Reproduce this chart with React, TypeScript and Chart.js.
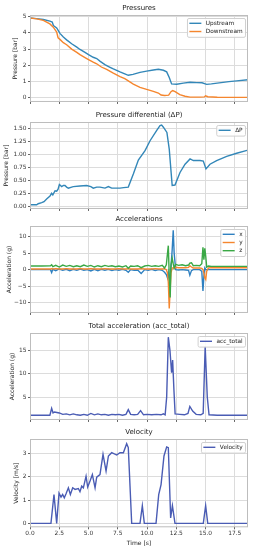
import React, { useEffect, useRef } from 'react';
import { Chart, registerables } from 'chart.js';

Chart.register(...registerables);

const FONT = "'DejaVu Sans', 'Liberation Sans', sans-serif";

// ---------- data (time [s], value) ----------
const xTickStep = 2.5;
const timeMax = 18.63;

const upstream: number[][] = [
  [0, 4.92], [0.57, 4.88], [1.14, 4.82], [1.7, 4.72], [1.9, 4.67], [2.0, 4.45], [2.14, 4.38],
  [2.28, 4.3], [2.56, 3.97], [2.85, 3.75], [3.13, 3.57], [3.56, 3.33], [4.0, 3.12], [4.27, 2.98],
  [4.7, 2.8], [5.0, 2.66], [5.4, 2.5], [5.7, 2.42], [6.0, 2.25], [6.4, 2.05], [6.8, 1.9],
  [7.12, 1.78], [7.69, 1.6], [8.1, 1.48], [8.4, 1.39], [8.8, 1.45], [9.4, 1.57], [9.97, 1.65],
  [10.54, 1.72], [10.97, 1.76], [11.4, 1.7], [11.68, 1.6], [11.9, 1.25], [12.1, 0.86],
  [12.54, 0.84], [13.1, 0.91], [13.68, 0.96], [14.25, 0.94], [14.7, 0.93], [15.1, 0.83],
  [15.5, 0.86], [16.0, 0.91], [17.0, 1.0], [17.66, 1.05], [18.63, 1.12],
];

const downstream: number[][] = [
  [0, 4.92], [0.57, 4.86], [1.14, 4.77], [1.7, 4.55], [1.99, 4.35], [2.28, 4.05], [2.4, 3.7],
  [2.56, 3.6], [2.85, 3.4], [3.13, 3.27], [3.56, 3.0], [4.0, 2.8], [4.27, 2.66], [4.7, 2.48],
  [5.0, 2.36], [5.4, 2.2], [5.7, 2.1], [6.1, 1.9], [6.55, 1.75], [7.12, 1.52], [7.69, 1.31],
  [8.1, 1.18], [8.4, 1.05], [8.83, 0.85], [9.4, 0.65], [9.97, 0.52], [10.54, 0.4], [10.97, 0.3],
  [11.2, 0.18], [11.5, 0.15], [11.85, 0.17], [12.05, 0.38], [12.19, 0.45], [12.4, 0.38],
  [12.8, 0.2], [13.25, 0.1], [13.68, 0.05], [14.5, 0.05], [14.9, 0.06], [15.0, 0.13],
  [15.2, 0.07], [16, 0.04], [18.63, 0.03],
];

const deltaP: number[][] = [
  [0, 0.03], [0.28, 0.03], [0.57, 0.03], [0.7, 0.05], [1.0, 0.07], [1.2, 0.09], [1.42, 0.14],
  [1.71, 0.2], [1.85, 0.25], [1.95, 0.22], [2.14, 0.3], [2.28, 0.29], [2.4, 0.33], [2.51, 0.42],
  [2.71, 0.38], [2.85, 0.4], [2.99, 0.4], [3.13, 0.37], [3.28, 0.35], [3.56, 0.37], [3.7, 0.38],
  [4.27, 0.39], [4.84, 0.4], [5.2, 0.38], [5.41, 0.35], [5.7, 0.37], [5.98, 0.37], [6.2, 0.36],
  [6.41, 0.35], [6.7, 0.38], [6.98, 0.35], [7.3, 0.35], [7.69, 0.35], [8.0, 0.36], [8.4, 0.37],
  [8.83, 0.62], [9.26, 0.89], [9.83, 1.07], [10.26, 1.26], [10.83, 1.46], [11.11, 1.55],
  [11.25, 1.56], [11.4, 1.52], [11.7, 1.42], [11.9, 1.1], [12.15, 0.4], [12.39, 0.41],
  [12.82, 0.65], [13.25, 0.81], [13.68, 0.91], [13.96, 0.88], [14.53, 0.88], [14.81, 0.87],
  [15.04, 0.72], [15.38, 0.81], [15.95, 0.88], [16.81, 0.96], [17.66, 1.02], [18.63, 1.08],
];

const accTime: number[] = [
  0, 1.0, 1.75, 1.85, 1.95, 2.2, 2.5, 2.8, 3.1, 3.4, 3.7, 4.0, 4.3, 4.6, 4.9, 5.2, 5.5, 5.8,
  6.1, 6.4, 6.7, 7.0, 7.3, 7.6, 7.9, 8.2, 8.4, 8.6, 8.9, 9.2, 9.5, 9.8, 10.1, 10.4, 10.7, 11.0,
  11.3, 11.5, 11.65, 11.75, 11.82, 11.9, 11.98, 12.05, 12.15, 12.24, 12.32, 12.45, 12.7, 13.0,
  13.3, 13.55, 13.66, 13.8, 13.95, 14.2, 14.5, 14.68, 14.78, 14.86, 14.94, 15.02, 15.1, 15.25,
  15.5, 16, 17, 18.63,
];
const accX: number[] = [
  0, 0, 0, -0.9, 0.1, -0.3, 0.2, -0.2, 0.1, -0.3, 0.1, -0.2, 0.2, -0.2, 0.0, -0.4, 0.1, -0.3,
  0.1, -0.2, 0.1, -0.3, 0.0, -0.2, 0.1, -0.2, -0.8, 0.0, -0.2, -0.1, -1.2, 0.0, -0.2, 0.1, -0.3, 0.0,
  -0.2, -0.8, -1.5, -2.5, -1.0, -3.0, -1.5, 1.0, 6.0, 12.0, 5.0, 0.0, -0.1, 0.0,
  -0.1, -0.2, -1.7, -0.3, 0.0, 0.0, 0.0, -0.5, -6.5, -2.0, 0.5, 0.0, 0.0, 0.0,
  0.0, 0.0, 0.0, 0.0,
];
const accY: number[] = [
  0.2, 0.2, 0.2, 0.3, 0.2, 0.3, 0.2, 0.2, 0.3, 0.2, 0.2, 0.2, 0.3, 0.2, 0.2, 0.3, 0.2, 0.2,
  0.2, 0.3, 0.2, 0.2, 0.2, 0.3, 0.2, 0.2, 0.3, 0.2, 0.2, 0.2, 0.3, 0.2, 0.2, 0.2, 0.3, 0.2,
  0.2, 0.3, 0.0, -1.0, -4.0, -11.8, -6.0, -1.0, 0.5, 0.6, 0.4, 0.7, 0.6, 0.6,
  0.6, 0.7, 1.2, 0.8, 0.5, 0.5, 0.5, 0.4, 0.0, -1.0, -2.5, -3.0, -0.5, 0.5,
  0.6, 0.6, 0.6, 0.6,
];
const accZ: number[] = [
  1.1, 1.1, 1.2, 1.5, 0.9, 1.3, 0.8, 1.4, 1.0, 1.3, 0.9, 1.2, 0.9, 1.4, 1.0, 1.3, 0.8, 1.2,
  0.9, 1.3, 1.0, 1.2, 0.9, 1.1, 0.8, 1.2, 0.4, 1.1, 1.0, 1.2, 0.6, 1.1, 1.3, 1.0, 1.2, 1.0,
  1.3, 0.5, 1.5, 5.0, 7.3, -2.0, -8.5, 1.5, 3.5, 1.8, 0.5, 1.6, 1.3, 1.5,
  1.2, 1.4, 2.0, 2.1, 1.2, 1.3, 1.2, 1.8, 6.8, 3.0, 6.5, 4.0, 0.8, 1.1,
  1.0, 1.0, 1.0, 1.0,
];

const accTotal: number[][] = [
  [0, 1.1], [1.7, 1.1], [1.85, 2.6], [1.97, 1.6], [2.1, 1.8], [2.5, 1.6], [2.8, 1.3], [3.1, 1.4],
  [3.4, 1.2], [3.7, 1.4], [4.0, 1.2], [4.3, 1.1], [4.6, 1.3], [4.9, 1.1], [5.2, 1.5], [5.5, 1.2],
  [5.8, 1.4], [6.1, 1.2], [6.4, 1.3], [6.7, 1.1], [7.0, 1.3], [7.3, 1.2], [7.6, 1.3], [7.9, 1.1],
  [8.2, 1.3], [8.4, 2.3], [8.6, 1.3], [8.9, 1.2], [9.2, 1.3], [9.45, 2.1], [9.7, 1.2], [10.0, 1.3],
  [10.4, 1.2], [10.8, 1.3], [11.2, 1.2], [11.4, 1.4], [11.55, 1.2], [11.68, 5.0], [11.82, 17.8],
  [11.96, 15.0], [12.1, 10.2], [12.19, 12.9], [12.3, 6.5], [12.4, 1.4], [12.8, 1.3], [13.2, 1.2],
  [13.5, 1.5], [13.66, 3.0], [13.9, 2.0], [14.2, 1.3], [14.6, 1.2], [14.8, 1.5], [14.97, 15.8],
  [15.15, 5.0], [15.3, 1.2], [16, 1.1], [17, 1.1], [18.63, 1.1],
];

const velocity: number[][] = [
  [0, 0], [1.79, 0], [2.05, 1.24], [2.28, 0], [2.48, 1.3], [2.65, 1.13], [2.79, 1.24], [2.93, 1.1],
  [3.08, 1.27], [3.28, 1.53], [3.45, 1.24], [3.65, 1.53], [3.85, 1.46], [4.13, 1.5], [4.27, 1.36],
  [4.42, 1.6], [4.56, 1.53], [4.79, 2.03], [4.93, 1.56], [5.13, 1.82], [5.33, 2.1], [5.56, 1.53],
  [5.7, 1.99], [5.98, 2.1], [6.24, 2.97], [6.5, 2.25], [6.7, 2.9], [6.98, 3.04], [7.41, 2.94],
  [7.69, 3.04], [7.98, 3.04], [8.26, 3.43], [8.4, 3.26], [8.69, 0], [9.4, 0], [9.6, 0.76],
  [9.77, 0], [10.77, 0], [11.0, 1.24], [11.2, 1.67], [11.45, 2.9], [11.68, 3.29], [11.82, 3.26],
  [12.02, 0.23], [12.17, 0.76], [12.39, 0], [14.81, 0], [15.01, 0.76], [15.19, 0], [18.63, 0],
];

// ---------- styling ----------
const C_TEAL = '#3387b8';
const C_ORANGE = '#f5862e';
const C_BLUE = '#2f80c0';
const C_GREEN = '#3aa845';
const C_INDIGO = '#4a5cb4';

type Series = { label: string; color: string; pts: number[][] };

type Panel = {
  title: string;
  yLabel: string;
  yMin: number;
  yMax: number;
  yStep: number;
  yFmt: (v: number) => string;
  yTitlePad: number;
  series: Series[];
  plotTop: number;
  last: boolean;
};

const zip = (t: number[], v: number[]) => t.map((x, i) => [x, v[i]]);
const minus = (v: number) => (v < 0 ? '\u2212' + Math.abs(v) : String(v));

const PLOT_H = 88.3;
const PLOT_LEFT = 30;
const PLOT_RIGHT = 248;
const TOP_SPACE = 15;
const CANVAS_W = 255;

const panels: Panel[] = [
  {
    title: 'Pressures', yLabel: 'Pressure [bar]', yMin: -0.25, yMax: 5.1, yStep: 1,
    yFmt: (v) => String(v), yTitlePad: 12.1, plotTop: 15, last: false,
    series: [
      { label: 'Upstream', color: C_TEAL, pts: upstream },
      { label: 'Downstream', color: C_ORANGE, pts: downstream },
    ],
  },
  {
    title: 'Pressure differential (\u0394P)', yLabel: 'Pressure [bar]', yMin: -0.05, yMax: 1.62,
    yStep: 0.25, yFmt: (v) => v.toFixed(2), yTitlePad: 2.4, plotTop: 122, last: false,
    series: [{ label: '\u0394P', color: C_TEAL, pts: deltaP }],
  },
  {
    title: 'Accelerations', yLabel: 'Acceleration (g)', yMin: -13.2, yMax: 13.3, yStep: 5,
    yFmt: minus, yTitlePad: 5.9, plotTop: 226, last: false,
    series: [
      { label: 'x', color: C_BLUE, pts: zip(accTime, accX) },
      { label: 'y', color: C_ORANGE, pts: zip(accTime, accY) },
      { label: 'z', color: C_GREEN, pts: zip(accTime, accZ) },
    ],
  },
  {
    title: 'Total acceleration (acc_total)', yLabel: 'Acceleration (g)', yMin: 0.1, yMax: 18.7,
    yStep: 5, yFmt: (v) => String(v), yTitlePad: 9.1, plotTop: 333, last: false,
    series: [{ label: 'acc_total', color: C_INDIGO, pts: accTotal }],
  },
  {
    title: 'Velocity', yLabel: 'Velocity [m/s]', yMin: -0.17, yMax: 3.63, yStep: 1,
    yFmt: (v) => String(v), yTitlePad: 12.4, plotTop: 439, last: true,
    series: [{ label: 'Velocity', color: C_INDIGO, pts: velocity }],
  },
];

const panelPlugin = {
  id: 'panelDeco',
  afterDraw(chart: any, _args: any, opts: any) {
    const { ctx, chartArea: a } = chart;
    ctx.save();
    // frame
    ctx.strokeStyle = '#bdbdbd';
    ctx.lineWidth = 1;
    ctx.strokeRect(a.left + 0.5, a.top + 0.5, a.right - a.left - 1, a.bottom - a.top - 1);
    // title
    ctx.fillStyle = '#222';
    ctx.font = `7px ${FONT}`;
    ctx.textAlign = 'center';
    ctx.textBaseline = 'middle';
    ctx.fillText(opts.title, (a.left + a.right) / 2, a.top - 7);
    // legend
    const entries: Series[] = opts.series;
    const fs = 5.8;
    const pad = 2.4, handle = 12, htp = 4.5, ls = 2.4;
    ctx.font = `${fs}px ${FONT}`;
    let maxW = 0;
    entries.forEach((e) => { maxW = Math.max(maxW, ctx.measureText(e.label).width); });
    const w = pad * 2 + handle + htp + maxW;
    const n = entries.length;
    const h = pad * 2 + n * fs + (n - 1) * ls;
    const x0 = a.right - 3 - w;
    const y0 = a.top + 3;
    ctx.beginPath();
    if ((ctx as any).roundRect) (ctx as any).roundRect(x0 + 0.5, y0 + 0.5, w, h, 1.5);
    else ctx.rect(x0 + 0.5, y0 + 0.5, w, h);
    ctx.fillStyle = 'rgba(255,255,255,0.85)';
    ctx.fill();
    ctx.strokeStyle = '#d0d0d0';
    ctx.lineWidth = 1;
    ctx.stroke();
    entries.forEach((e, i) => {
      const cy = y0 + pad + fs / 2 + i * (fs + ls);
      ctx.strokeStyle = e.color;
      ctx.lineWidth = 1.4;
      ctx.beginPath();
      ctx.moveTo(x0 + pad, cy);
      ctx.lineTo(x0 + pad + handle, cy);
      ctx.stroke();
      ctx.fillStyle = '#222';
      ctx.textAlign = 'left';
      ctx.textBaseline = 'middle';
      ctx.fillText(e.label, x0 + pad + handle + htp, cy);
    });
    ctx.restore();
  },
};

function PanelChart({ p }: { p: Panel }) {
  const ref = useRef<HTMLCanvasElement | null>(null);
  const canvasTop = p.plotTop - TOP_SPACE;
  const canvasH = p.last ? 550 - canvasTop : 107;
  const xAxisH = canvasH - TOP_SPACE - PLOT_H;

  useEffect(() => {
    if (!ref.current) return;
    const tickFont = { family: FONT, size: 5.9 };
    const gridCfg = { color: '#dcdcdc', tickColor: '#666', tickLength: 2, lineWidth: 1 };
    const n = p.series.length;
    const chart = new Chart(ref.current, {
      type: 'line',
      data: {
        datasets: p.series.map((s, i) => ({
          label: s.label,
          data: s.pts.map(([x, y]) => ({ x, y })),
          borderColor: s.color,
          backgroundColor: s.color,
          borderWidth: 1.4,
          pointRadius: 0,
          fill: false,
          tension: 0,
          order: n - i,
        })),
      },
      options: {
        responsive: false,
        animation: false,
        events: [],
        layout: { padding: { top: TOP_SPACE, left: 0, right: CANVAS_W - PLOT_RIGHT, bottom: 0 } },
        plugins: {
          legend: { display: false },
          title: { display: false },
          tooltip: { enabled: false },
          panelDeco: { title: p.title, series: p.series },
        } as any,
        scales: {
          x: {
            type: 'linear',
            min: 0,
            max: timeMax,
            ticks: {
              stepSize: xTickStep,
              includeBounds: false,
              display: p.last,
              autoSkip: false,
              maxRotation: 0,
              padding: 1,
              color: '#333',
              font: tickFont,
              callback: (v: any) => Number(v).toFixed(1),
            },
            grid: gridCfg,
            border: { display: false },
            title: {
              display: p.last,
              text: 'Time [s]',
              color: '#222',
              font: { family: FONT, size: 6 },
              padding: { top: 0, bottom: 3.1 },
            },
            afterFit: (s: any) => { s.height = xAxisH; },
          },
          y: {
            type: 'linear',
            min: p.yMin,
            max: p.yMax,
            ticks: {
              stepSize: p.yStep,
              includeBounds: false,
              padding: 1.5,
              color: '#333',
              font: tickFont,
              callback: (v: any) => p.yFmt(Number(v)),
            },
            grid: gridCfg,
            border: { display: false },
            title: {
              display: true,
              text: p.yLabel,
              color: '#222',
              font: { family: FONT, size: 6 },
              padding: { top: p.yTitlePad, bottom: 0 },
            },
            afterFit: (s: any) => { s.width = PLOT_LEFT; },
          },
        },
      } as any,
      plugins: [panelPlugin],
    });
    return () => chart.destroy();
  }, []);

  return (
    <canvas
      ref={ref}
      width={CANVAS_W}
      height={canvasH}
      style={{ position: 'absolute', left: 0, top: canvasTop, width: CANVAS_W, height: canvasH, display: 'block' }}
    />
  );
}

export default function App() {
  return (
    <div style={{ position: 'absolute', left: 0, top: 0, width: 255, height: 550, background: '#fff', overflow: 'hidden' }}>
      {panels.map((p, i) => (
        <PanelChart key={i} p={p} />
      ))}
    </div>
  );
}
